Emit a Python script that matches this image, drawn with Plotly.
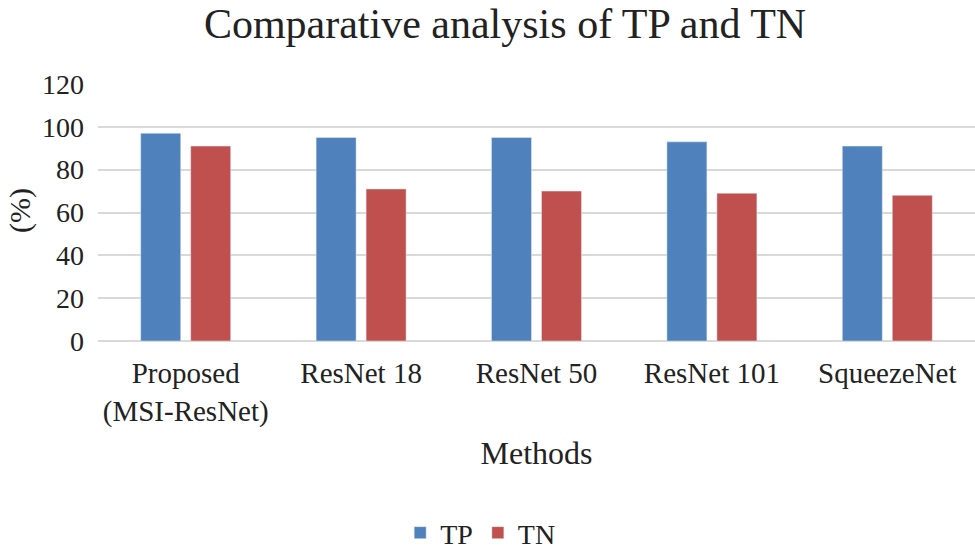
import plotly.graph_objects as go

methods = ["Proposed<br>(MSI-ResNet)", "ResNet 18", "ResNet 50", "ResNet 101", "SqueezeNet"]
tp = [97, 95, 95, 93, 91]
tn = [91, 71, 70, 69, 68]
y_ticks = [0, 20, 40, 60, 80, 100, 120]

font = "Liberation Serif"
W, H = 975, 550

fig = go.Figure()
fig.add_trace(go.Bar(name="TP", x=methods, y=tp, marker_color="#4F81BD"))
fig.add_trace(go.Bar(name="TN", x=methods, y=tn, marker_color="#C0504D"))

fig.update_layout(
    width=W, height=H,
    paper_bgcolor="white", plot_bgcolor="white",
    margin=dict(l=98, r=0, t=84, b=209, autoexpand=False),
    barmode="group", bargap=0.43, bargroupgap=0.2,
    font=dict(family=font, color="#222222", size=28),
    title=dict(text="Comparative analysis of TP and TN", x=0.518, xref="container",
               xanchor="center",
               y=0.958, yref="container", yanchor="middle",
               font=dict(family=font, size=42, color="#222222")),
    legend=dict(orientation="h", x=0.493, xanchor="center", xref="container",
                y=0.031, yref="container", yanchor="middle", font=dict(size=28),
                traceorder="normal"),
    annotations=[dict(text="(%)", textangle=-90, xref="paper", yref="paper",
                      x=-0.089, y=0.51, xanchor="center", yanchor="middle",
                      showarrow=False, font=dict(size=30, color="#222222"))],
)
fig.update_xaxes(
    title=dict(text="Methods", font=dict(size=32), standoff=14),
    tickfont=dict(size=29), showgrid=False, showline=False, ticks="",
    ticklabelstandoff=12, automargin=False,
)
fig.update_yaxes(
    range=[0, 120], tickvals=y_ticks, tickfont=dict(size=28),
    showgrid=True, gridcolor="#D9D9D9", gridwidth=2,
    zeroline=True, zerolinecolor="#D9D9D9", zerolinewidth=2,
    showline=False, ticks="", ticklabelstandoff=13, automargin=False,
)

fig.write_html("out.html", config={"displayModeBar": False},
               post_script="document.body.style.margin='0';")
